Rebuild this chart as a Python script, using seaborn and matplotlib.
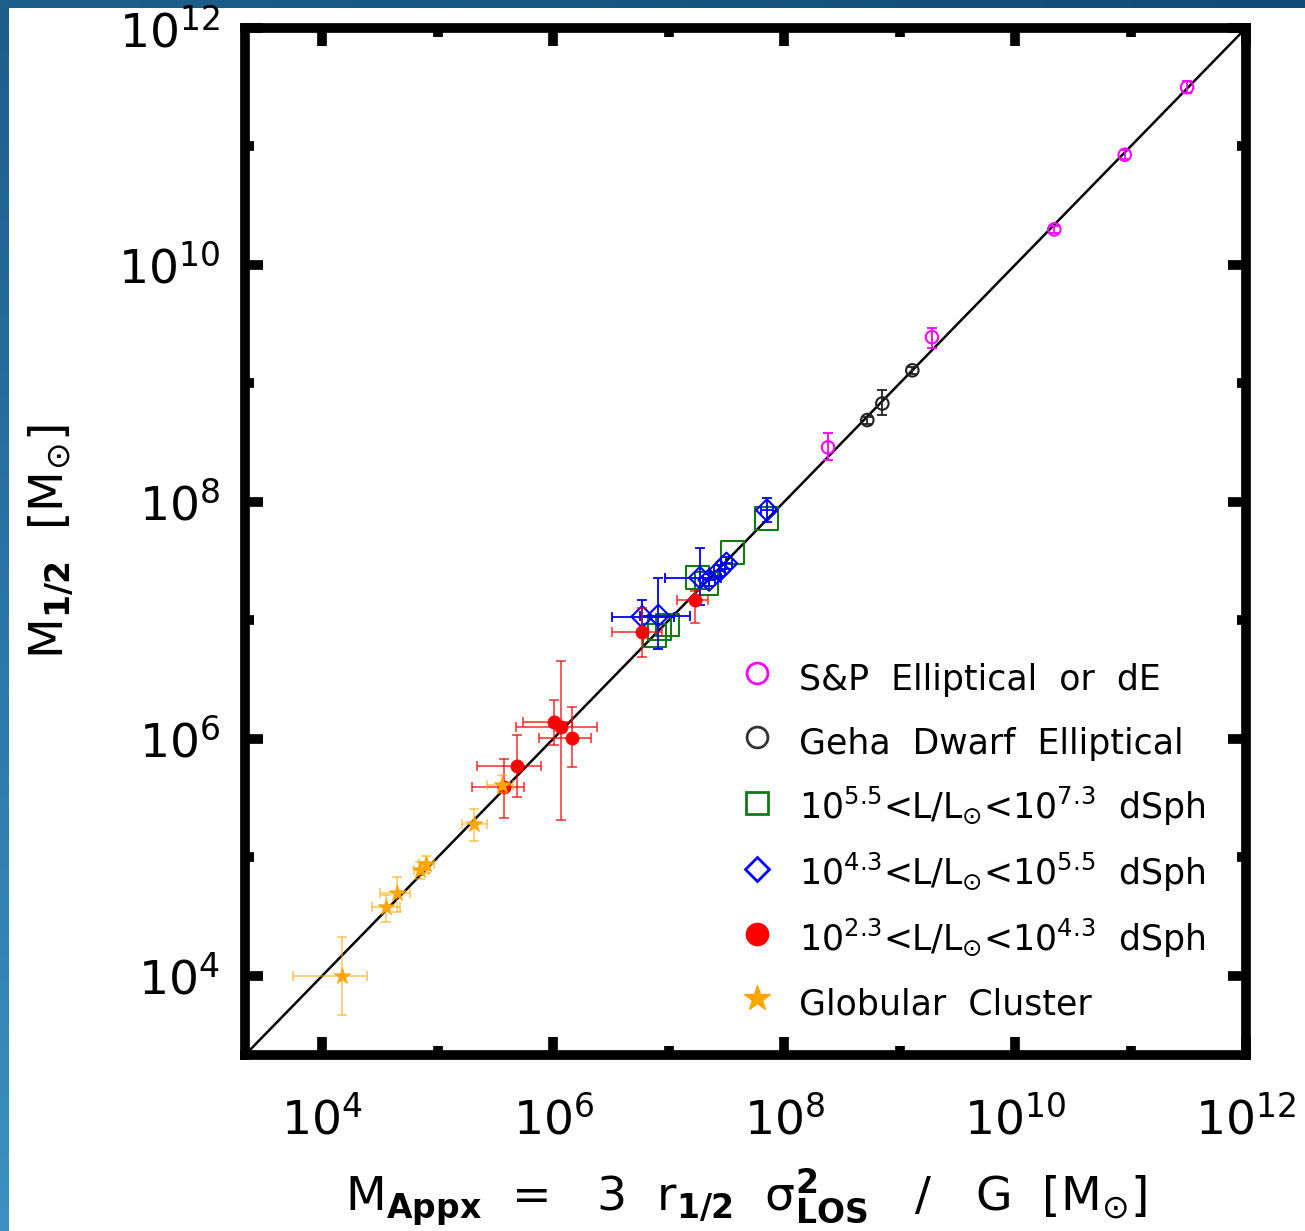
import numpy as np
import pandas as pd
import matplotlib
matplotlib.use("Agg")
import matplotlib.pyplot as plt
import seaborn as sns
from matplotlib.ticker import FixedLocator, LogFormatterMathtext, NullFormatter
from matplotlib.lines import Line2D
from matplotlib.colors import LinearSegmentedColormap

# ---------------- data (log10 of masses) ----------------
# S&P Elliptical or dE
sp_logx = [11.49, 10.95, 10.34, 9.28, 8.38]
sp_logy = [11.50, 10.93, 10.30, 9.39, 8.46]
sp_ylo = [11.45, 10.89, 10.27, 9.30, 8.35]
sp_yhi = [11.55, 10.97, 10.33, 9.47, 8.58]

# Geha Dwarf Elliptical
ge_logx = [9.11, 8.85, 8.72]
ge_logy = [9.11, 8.83, 8.69]
ge_ylo = [9.08, 8.73, 8.66]
ge_yhi = [9.14, 8.94, 8.72]

# 10^5.5 < L < 10^7.3 dSph
hi_logx = [7.85, 7.55, 7.33, 7.25, 6.99, 6.92, 6.88]
hi_logy = [7.86, 7.57, 7.31, 7.36, 6.96, 6.93, 6.87]

# 10^4.3 < L < 10^5.5 dSph
md_logx = [7.85, 7.50, 7.44, 7.27, 7.35, 6.91, 6.77]
md_logy = [7.93, 7.48, 7.42, 7.36, 7.34, 7.04, 7.03]
md_xlo = [7.80, 7.45, 7.39, 6.97, 7.30, 6.75, 6.51]
md_xhi = [7.90, 7.55, 7.49, 7.45, 7.40, 7.18, 7.05]
md_ylo = [7.83, 7.43, 7.37, 7.13, 7.29, 6.76, 6.87]
md_yhi = [8.03, 7.53, 7.47, 7.61, 7.39, 7.36, 7.17]

# 10^2.3 < L < 10^4.3 dSph
lo_logx = [7.23, 6.77, 6.01, 6.07, 6.16, 5.69, 5.57]
lo_logy = [7.17, 6.90, 6.14, 6.10, 6.01, 5.77, 5.59]
lo_xlo = [7.07, 6.51, 5.74, 5.68, 5.88, 5.34, 5.30]
lo_xhi = [7.34, 6.94, 6.16, 6.38, 6.33, 5.89, 5.75]
lo_ylo = [6.98, 6.69, 5.95, 5.31, 5.76, 5.51, 5.33]
lo_yhi = [7.25, 7.10, 6.33, 6.66, 6.27, 6.03, 5.83]

# Globular Cluster
gc_logx = [5.56, 5.31, 4.90, 4.85, 4.65, 4.55, 4.17]
gc_logy = [5.61, 5.28, 4.94, 4.89, 4.70, 4.58, 4.00]
gc_xlo = [5.43, 5.21, 4.84, 4.79, 4.50, 4.43, 3.75]
gc_xhi = [5.65, 5.43, 4.97, 4.92, 4.76, 4.67, 4.39]
gc_ylo = [5.54, 5.14, 4.87, 4.82, 4.54, 4.45, 3.67]
gc_yhi = [5.69, 5.41, 5.01, 4.96, 4.83, 4.68, 4.33]

log_min, log_max = 3.33, 12.0
major_exp = [4, 6, 8, 10, 12]
minor_exp = [5, 7, 9, 11]

legend_labels = [
    "S&P  Elliptical  or  dE",
    "Geha  Dwarf  Elliptical",
    r"10$^{5.5}$<L/L$_{\odot}$<10$^{7.3}$  dSph",
    r"10$^{4.3}$<L/L$_{\odot}$<10$^{5.5}$  dSph",
    r"10$^{2.3}$<L/L$_{\odot}$<10$^{4.3}$  dSph",
    "Globular  Cluster",
]

# ---------------- style ----------------
sns.set_theme(style="ticks")
plt.rcParams["font.family"] = ["DejaVu Sans"]
plt.rcParams["mathtext.fontset"] = "dejavusans"

fig = plt.figure(figsize=(13.05, 12.31), dpi=100, facecolor="white")

# blue border strips (background decoration)
grad = np.linspace(0, 1, 256).reshape(-1, 1)
left_cmap = LinearSegmentedColormap.from_list("lb", ["#1d5d8a", "#2a76a7", "#3b91c3"])
axl = fig.add_axes([0, 0, 9 / 1305, 1])
axl.imshow(grad, aspect="auto", cmap=left_cmap, origin="upper")
axl.set_axis_off()
top_cmap = LinearSegmentedColormap.from_list("tb", ["#1e5f8c", "#0f4c76"])
axt = fig.add_axes([0, 1 - 8 / 1231, 1, 8 / 1231])
axt.imshow(grad.T, aspect="auto", cmap=top_cmap)
axt.set_axis_off()

ax = fig.add_axes([245 / 1305, 1 - 1055 / 1231, 1001 / 1305, 1027 / 1231])
ax.set_facecolor("white")
ax.set_xscale("log")
ax.set_yscale("log")
lim = (10 ** log_min, 10 ** log_max)
ax.set_xlim(*lim)
ax.set_ylim(*lim)

# one-to-one line
ax.plot(lim, lim, color="black", lw=1.8, zorder=2)


def errs(v, lo, hi):
    v = np.array(v)
    return [10 ** v - 10 ** np.array(lo), 10 ** np.array(hi) - 10 ** v]


def group(logx, logy, color, marker, size, filled, lw=1.5, xlo=None, xhi=None,
          ylo=None, yhi=None, ealpha=1.0, z=3):
    x = 10 ** np.array(logx)
    y = 10 ** np.array(logy)
    xerr = errs(logx, xlo, xhi) if xlo is not None else None
    yerr = errs(logy, ylo, yhi) if ylo is not None else None
    if xerr is not None or yerr is not None:
        ax.errorbar(x, y, xerr=xerr, yerr=yerr, fmt="none", ecolor=color,
                    elinewidth=1.3, capsize=3.5, capthick=1.3, alpha=ealpha,
                    zorder=z)
    df = pd.DataFrame({"x": x, "y": y})
    if filled:
        sns.scatterplot(data=df, x="x", y="y", marker=marker, s=size ** 2,
                        color=color, edgecolor=color, linewidth=0.5, ax=ax,
                        zorder=z + 0.5, legend=False)
    else:
        sns.scatterplot(data=df, x="x", y="y", marker=marker, s=size ** 2,
                        color=color, facecolor="none", edgecolor=color,
                        linewidth=lw, ax=ax, zorder=z + 0.5, legend=False)


group(hi_logx, hi_logy, "#137a13", "s", 16.5, False, z=3)
group(md_logx, md_logy, "#0000ff", "D", 11, False, xlo=md_xlo, xhi=md_xhi,
      ylo=md_ylo, yhi=md_yhi, z=4)
group(lo_logx, lo_logy, "#ff0000", "o", 9.5, True, xlo=lo_xlo, xhi=lo_xhi,
      ylo=lo_ylo, yhi=lo_yhi, ealpha=0.7, z=5)
group(gc_logx, gc_logy, "#ffa500", "*", 12.5, True, xlo=gc_xlo, xhi=gc_xhi,
      ylo=gc_ylo, yhi=gc_yhi, ealpha=0.55, z=6)
group(sp_logx, sp_logy, "#ff00ff", "o", 9, False, ylo=sp_ylo, yhi=sp_yhi, z=7)
group(ge_logx, ge_logy, "#222222", "o", 9, False, ylo=ge_ylo, yhi=ge_yhi, z=7)

# ---------------- axes styling ----------------
for side in ["left", "right", "top", "bottom"]:
    ax.spines[side].set_linewidth(7)
    ax.spines[side].set_color("black")
    ax.spines[side].set_visible(True)

ax.xaxis.set_major_locator(FixedLocator([10.0 ** e for e in major_exp]))
ax.yaxis.set_major_locator(FixedLocator([10.0 ** e for e in major_exp]))
ax.xaxis.set_minor_locator(FixedLocator([10.0 ** e for e in minor_exp]))
ax.yaxis.set_minor_locator(FixedLocator([10.0 ** e for e in minor_exp]))
ax.xaxis.set_major_formatter(LogFormatterMathtext())
ax.yaxis.set_major_formatter(LogFormatterMathtext())
ax.xaxis.set_minor_formatter(NullFormatter())
ax.yaxis.set_minor_formatter(NullFormatter())

ax.tick_params(which="both", direction="in", top=True, right=True,
               color="black", labelcolor="black")
ax.tick_params(which="major", length=13, width=7, labelsize=34)
ax.tick_params(which="minor", length=6.5, width=7)
ax.tick_params(axis="x", which="major", pad=30)
ax.tick_params(axis="y", which="major", pad=18)

ax.set_xlabel(r"M$_{\mathbf{Appx}}$  =   3  r$_{\mathbf{1/2}}$  $\mathregular{\sigma}^{\mathbf{2}}_{\mathbf{LOS}}$   /   G  [M$_{\odot}$]",
              fontsize=34, labelpad=16, color="black")
ax.set_ylabel(r"M$_{\mathbf{1/2}}$  [M$_{\odot}$]", fontsize=34, labelpad=30,
              color="black")

# ---------------- legend ----------------
handles = [
    Line2D([], [], ls="None", marker="o", ms=15, mfc="none", mec="#ff00ff", mew=2),
    Line2D([], [], ls="None", marker="o", ms=15, mfc="none", mec="#333333", mew=2),
    Line2D([], [], ls="None", marker="s", ms=16, mfc="none", mec="#137a13", mew=2),
    Line2D([], [], ls="None", marker="D", ms=12, mfc="none", mec="#0000ff", mew=2),
    Line2D([], [], ls="None", marker="o", ms=16, mfc="#ff0000", mec="#ff0000"),
    Line2D([], [], ls="None", marker="*", ms=19, mfc="#ffa500", mec="#ffa500"),
]
leg = ax.legend(handles, legend_labels, loc="upper left",
                bbox_to_anchor=((740 - 245) / 1001, (1055 - 657) / 1027),
                frameon=False, fontsize=25, handlelength=1.0,
                handleheight=1.5, handletextpad=0.7, labelspacing=0.625,
                borderpad=0, borderaxespad=0)
for t in leg.get_texts():
    t.set_color("black")

fig.savefig("out.png", dpi=100, facecolor="white")
